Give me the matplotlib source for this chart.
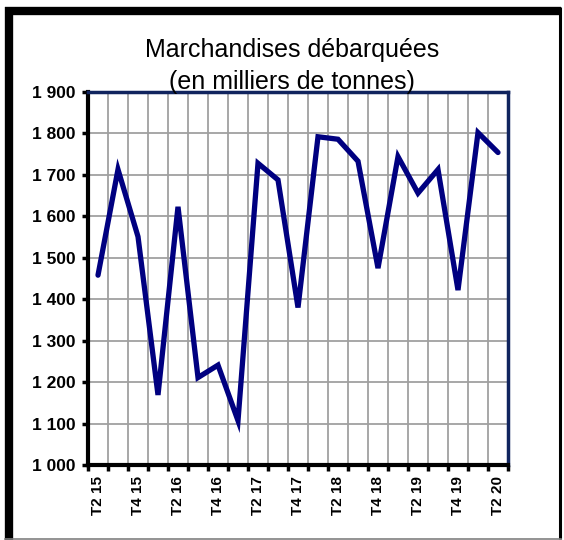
import numpy as np
import matplotlib.pyplot as plt
from matplotlib.lines import Line2D
from matplotlib.ticker import FuncFormatter

plt.rcParams['font.family'] = ['Liberation Sans', 'DejaVu Sans']

# quarters T2 15 .. T2 20
quarters = ["T2 15", "T3 15", "T4 15", "T1 16", "T2 16", "T3 16", "T4 16",
            "T1 17", "T2 17", "T3 17", "T4 17", "T1 18", "T2 18", "T3 18",
            "T4 18", "T1 19", "T2 19", "T3 19", "T4 19", "T1 20", "T2 20"]
tonnes = [1458, 1713, 1551, 1169, 1623, 1211, 1241, 1107, 1728, 1688, 1380,
          1792, 1786, 1733, 1475, 1744, 1656, 1713, 1422, 1802, 1754]
yticks = [1000, 1100, 1200, 1300, 1400, 1500, 1600, 1700, 1800, 1900]

W, H = 564, 540
fig = plt.figure(figsize=(W / 100, H / 100), dpi=100)

# outer frame
fig.add_artist(Line2D([9 / W, 9 / W], [0, 1 - 7 / H], color='black', lw=6, solid_capstyle='butt'))
fig.add_artist(Line2D([5 / W, 561 / W], [1 - 11 / H, 1 - 11 / H], color='black', lw=6, solid_capstyle='butt'))
fig.add_artist(Line2D([559.5 / W, 559.5 / W], [1 / H, 1 - 7 / H], color='black', lw=2.2, solid_capstyle='butt'))
fig.add_artist(Line2D([5 / W, 561 / W], [1.5 / H, 1.5 / H], color='#808080', lw=1.2))

ax = fig.add_axes([88 / W, (H - 465) / H, 420 / W, 373 / H])
x = np.arange(len(quarters))
ax.plot(x, tonnes, color='#000080', lw=3.8, solid_joinstyle='miter',
        solid_capstyle='round', zorder=3)

ax.set_xlim(-0.5, len(quarters) - 0.5)
ax.set_ylim(1000, 1900)
ax.set_yticks(yticks)
ax.yaxis.set_major_formatter(FuncFormatter(lambda v, p: f"{int(v):,}".replace(",", " ")))

# boundaries get ticks + gridlines, labels on every second quarter
ax.set_xticks(np.arange(-0.5, len(quarters)), labels=[])
ax.set_xticks(x[::2], labels=quarters[::2], minor=True)
ax.tick_params(axis='x', which='minor', length=0, pad=8, rotation=90)
ax.tick_params(axis='x', which='major', length=4, width=2.5, color='black')
ax.tick_params(axis='y', length=4, width=2.5, color='black', pad=5)
for lab in ax.get_xticklabels(minor=True) + ax.get_yticklabels():
    lab.set_fontweight('bold')
for lab in ax.get_xticklabels(minor=True):
    lab.set_fontsize(11)
for lab in ax.get_yticklabels():
    lab.set_fontsize(12.5)

ax.grid(True, color='#A0A0A0', lw=1.3)
ax.set_axisbelow(True)
for s in ['left', 'bottom']:
    ax.spines[s].set_color('black')
    ax.spines[s].set_linewidth(3)
for s in ['top', 'right']:
    ax.spines[s].set_color('#10245E')
    ax.spines[s].set_linewidth(2.5)

fig.text(292 / W, 1 - 38 / H, "Marchandises débarquées\n(en milliers de tonnes)",
         ha='center', va='top', fontsize=18, linespacing=1.4)

fig.savefig('out.png', dpi=100)
